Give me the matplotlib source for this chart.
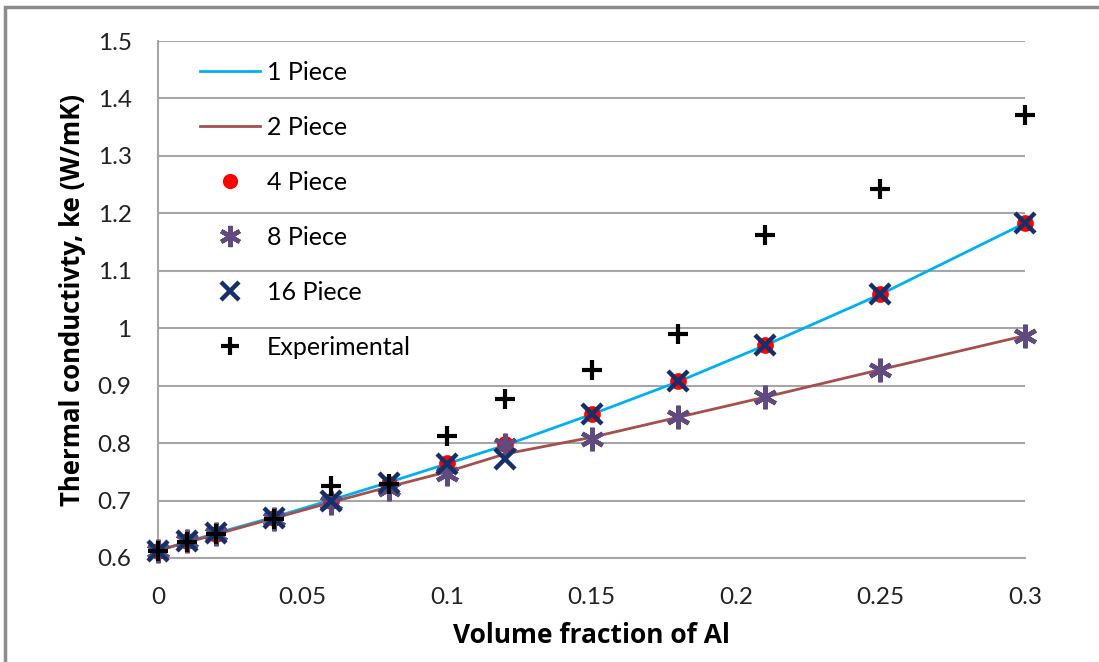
import numpy as np
import matplotlib.pyplot as plt
from matplotlib.patches import Rectangle
from matplotlib.ticker import FuncFormatter

# volume fraction of Al
vf = [0, 0.01, 0.02, 0.04, 0.06, 0.08, 0.1, 0.12, 0.15, 0.18, 0.21, 0.25, 0.3]

one_piece = [0.613, 0.628, 0.643, 0.671, 0.701, 0.732, 0.764, 0.796, 0.850, 0.907, 0.970, 1.059, 1.183]
two_piece = [0.613, 0.627, 0.641, 0.669, 0.697, 0.724, 0.750, 0.781, 0.810, 0.845, 0.880, 0.928, 0.987]
four_piece = [0.613, 0.630, 0.642, 0.670, 0.700, 0.728, 0.765, 0.798, 0.851, 0.908, 0.970, 1.059, 1.183]
eight_piece = [0.612, 0.630, 0.641, 0.668, 0.695, 0.720, 0.746, 0.797, 0.808, 0.845, 0.880, 0.928, 0.987]
sixteen_piece = [0.612, 0.630, 0.643, 0.669, 0.700, 0.730, 0.764, 0.772, 0.851, 0.908, 0.970, 1.059, 1.183]
experimental = [0.612, 0.628, 0.642, 0.668, 0.725, 0.728, 0.812, 0.876, 0.928, 0.990, 1.162, 1.242, 1.372]

plt.rcParams['font.family'] = ['Lato', 'DejaVu Sans']

fig = plt.figure(figsize=(10.99, 6.62), dpi=100)
ax = fig.add_axes([158/1099, 1 - 558/662, (1025-158)/1099, (558-41)/662])

# outer chart frame (Excel style)
fig.patches.append(Rectangle((5/1099, -0.05), 1.1, 1 - 7/662 + 0.05, transform=fig.transFigure,
                             fill=False, edgecolor='#8c8c8c', linewidth=2.5))

ax.plot(vf, one_piece, color='#00B0F0', lw=2, label='1 Piece', zorder=2)
ax.plot(vf, two_piece, color='#A5504D', lw=2, label='2 Piece', zorder=2)
ax.plot(vf, four_piece, ls='none', marker='o', ms=11, color='#FF0000', label='4 Piece', zorder=3, clip_on=False)
ax.plot(vf, eight_piece, ls='none', marker=(6, 2, 0), ms=17, mew=3.2, color='#5F4B7F', label='8 Piece', zorder=4, clip_on=False)
ax.plot(vf, sixteen_piece, ls='none', marker='x', ms=14, mew=3.2, color='#14306B', label='16 Piece', zorder=5, clip_on=False)
ax.plot(vf, experimental, ls='none', marker='+', ms=15, mew=3, color='black', label='Experimental', zorder=6, clip_on=False)

ax.set_xlim(0, 0.3)
ax.set_ylim(0.6, 1.5)
ax.set_xticks(np.arange(0, 0.31, 0.05))
ax.set_yticks(np.arange(0.6, 1.51, 0.1))
ax.xaxis.set_major_formatter(FuncFormatter(lambda v, p: '%g' % round(v, 2)))
ax.yaxis.set_major_formatter(FuncFormatter(lambda v, p: '%g' % round(v, 1)))
ax.tick_params(axis='both', labelsize=17.5, length=0, colors='#222222')
ax.tick_params(axis='x', pad=21)
ax.tick_params(axis='y', pad=19)
ax.grid(axis='y', color='#A6A6A6', lw=1.5)
ax.set_axisbelow(True)
for s in ['top', 'right']:
    ax.spines[s].set_visible(False)
for s in ['left', 'bottom']:
    ax.spines[s].set_color('#A6A6A6')
    ax.spines[s].set_linewidth(1.5)
ax.patch.set_alpha(0)

ax.set_xlabel('Volume fraction of Al', fontsize=19, fontweight='bold', family='Open Sans', labelpad=10)
ax.set_ylabel('Thermal conductivty, ke (W/mK)', fontsize=18.5, fontweight='bold', family='Open Sans', labelpad=8)

ax.legend(loc='upper left', bbox_to_anchor=(0.048, 0.962), frameon=False, fontsize=18,
          borderpad=0, borderaxespad=0, labelspacing=1.28, handlelength=2.4,
          handletextpad=0.3, markerscale=0.9)

fig.savefig('out.png', dpi=100)
